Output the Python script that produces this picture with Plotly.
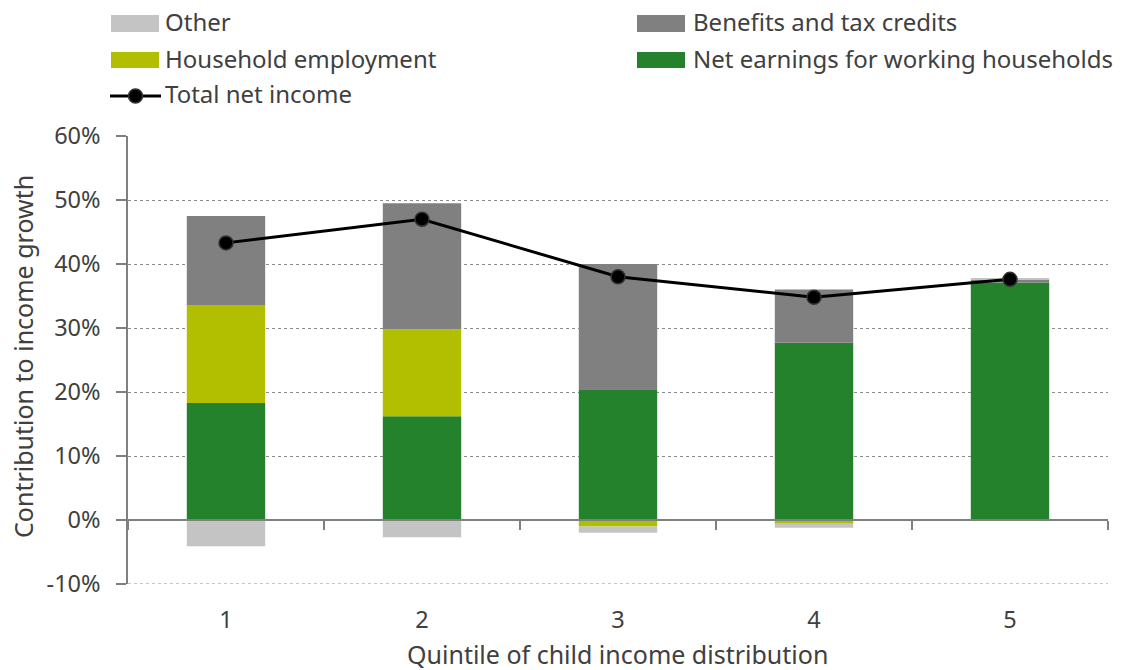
import plotly.graph_objects as go

quintiles = ["1", "2", "3", "4", "5"]
net_earnings = [18.3, 16.2, 20.3, 27.7, 37.1]
household_employment = [15.3, 13.6, -1.0, -0.6, -0.1]
benefits = [13.9, 19.7, 19.7, 8.3, 0.4]
other = [-4.1, -2.7, -1.0, -0.6, 0.3]
total_net_income = [43.3, 47.0, 38.0, 34.8, 37.6]

y_ticks = [-10, 0, 10, 20, 30, 40, 50, 60]
y_tick_labels = [f"{v}%" for v in y_ticks]

FONT = "Noto Sans"
TXT = "#404040"
C_NET = "#23822b"
C_EMP = "#b2bf00"
C_BEN = "#808080"
C_OTH = "#c4c4c4"
GRID = "#8c8c8c"

# plot area in pixels
L, R, T, B = 128, 1108, 136, 584


def px(xp):
    return (xp - L) / (R - L)


def py(yp):
    return (B - yp) / (B - T)


fig = go.Figure()
fig.add_trace(go.Bar(x=quintiles, y=net_earnings, name="Net earnings for working households",
                     marker=dict(color=C_NET, line=dict(width=0)), showlegend=False))
fig.add_trace(go.Bar(x=quintiles, y=household_employment, name="Household employment",
                     marker=dict(color=C_EMP, line=dict(width=0)), showlegend=False))
fig.add_trace(go.Bar(x=quintiles, y=benefits, name="Benefits and tax credits",
                     marker=dict(color=C_BEN, line=dict(width=0)), showlegend=False))
fig.add_trace(go.Bar(x=quintiles, y=other, name="Other",
                     marker=dict(color=C_OTH, line=dict(width=0)), showlegend=False))
fig.add_trace(go.Scatter(x=quintiles, y=total_net_income, name="Total net income",
                         mode="lines+markers",
                         line=dict(color="#000000", width=3),
                         marker=dict(color="#000000", size=14, line=dict(color="#333333", width=1.5)),
                         showlegend=False))

fig.update_layout(
    width=1142, height=670,
    barmode="relative", bargap=0.6,
    plot_bgcolor="white", paper_bgcolor="white",
    font=dict(family=FONT, size=24, color=TXT),
    margin=dict(l=L, r=1142 - R, t=T, b=670 - B, autoexpand=False),
    showlegend=False,
)

fig.update_yaxes(range=[y_ticks[0], y_ticks[-1]], tickvals=y_ticks, ticktext=y_tick_labels,
                 showgrid=True, gridcolor=GRID, griddash="dot", gridwidth=1,
                 zeroline=False, showline=True, linecolor="#808080", linewidth=1.5,
                 ticks="outside", ticklen=10, tickcolor="#808080", tickwidth=1.5,
                 ticklabelstandoff=11, tickfont=dict(size=23.5, color=TXT))

fig.update_xaxes(anchor="free", position=-y_ticks[0] / (y_ticks[-1] - y_ticks[0]),
                 showline=True, linecolor="#808080",
                 linewidth=2, ticks="outside", tickson="boundaries", ticklen=9,
                 tickcolor="#808080", tickwidth=1.5, showgrid=False,
                 ticklabelstandoff=79, tickfont=dict(size=23.5, color=TXT))

# bottom gridline (hidden by plotly at the plot edge)
fig.add_shape(type="line", xref="paper", yref="y", x0=0, x1=1, y0=y_ticks[0], y1=y_ticks[0],
              line=dict(color=GRID, width=1, dash="dot"), layer="below")

fig.add_annotation(text="Quintile of child income distribution", xref="paper", yref="paper",
                   x=px(617), y=py(653.5), xanchor="center", yanchor="middle", showarrow=False,
                   font=dict(size=25, color=TXT))
fig.add_annotation(text="Contribution to income growth", xref="paper", yref="paper",
                   x=px(23), y=py(357), xanchor="center", yanchor="middle", showarrow=False,
                   textangle=-90, font=dict(size=25, color=TXT))

# manual legend
legend_items = [
    ("Other", C_OTH, 111, 163, 15, 32),
    ("Household employment", C_EMP, 111, 163, 52, 68),
    ("Benefits and tax credits", C_BEN, 637, 691, 15, 32),
    ("Net earnings for working households", C_NET, 637, 691, 52, 68),
]
for label, color, x0, tx, y0, y1 in legend_items:
    fig.add_shape(type="rect", xref="paper", yref="paper",
                  x0=px(x0), x1=px(x0 + 48), y0=py(y1), y1=py(y0),
                  fillcolor=color, line=dict(width=0))
    fig.add_annotation(text=label, xref="paper", yref="paper", x=px(tx), y=py((y0 + y1) / 2 - 1.5),
                       xanchor="left", yanchor="middle", showarrow=False,
                       font=dict(size=24, color=TXT))

fig.add_shape(type="line", xref="paper", yref="paper", x0=px(110), x1=px(161),
              y0=py(96), y1=py(96), line=dict(color="#000000", width=3))
fig.add_shape(type="circle", xref="paper", yref="paper", xsizemode="pixel", ysizemode="pixel",
              xanchor=px(135.5), yanchor=py(96), x0=-7, x1=7, y0=-7, y1=7,
              fillcolor="#000000", line=dict(color="#333333", width=1.5))
fig.add_annotation(text="Total net income", xref="paper", yref="paper", x=px(163), y=py(93),
                   xanchor="left", yanchor="middle", showarrow=False,
                   font=dict(size=24, color=TXT))

fig.write_html("out.html", config={"displayModeBar": False},
               post_script="document.body.style.margin='0';")
